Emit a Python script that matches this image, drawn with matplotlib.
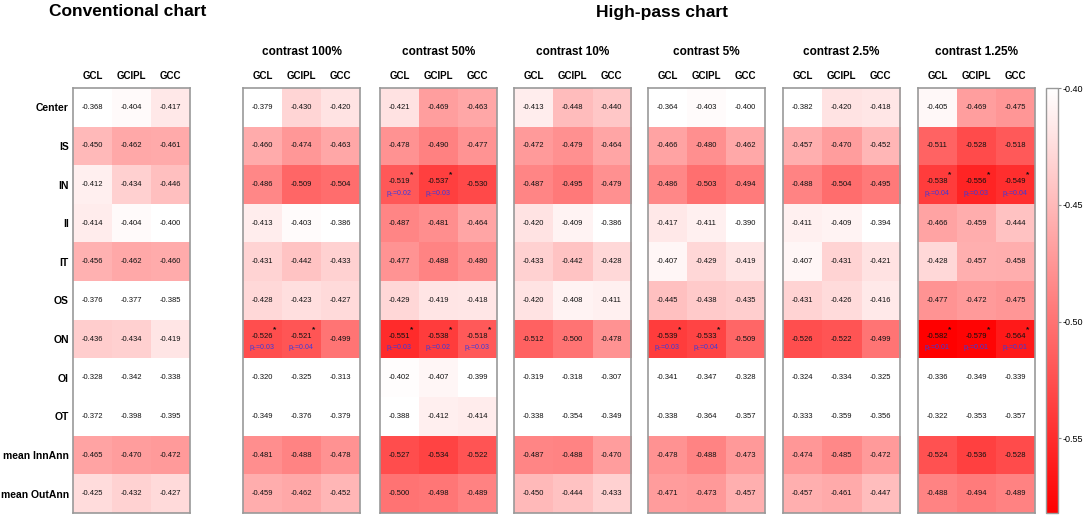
import numpy as np
import matplotlib
matplotlib.use('Agg')
import matplotlib.pyplot as plt
from matplotlib.colors import LinearSegmentedColormap

plt.rcParams['font.family'] = ['Liberation Sans', 'DejaVu Sans']

rows = ['Center', 'IS', 'IN', 'II', 'IT', 'OS', 'ON', 'OI', 'OT', 'mean InnAnn', 'mean OutAnn']
cols = ['GCL', 'GCIPL', 'GCC']

conventional = [
    [-0.368, -0.404, -0.417], [-0.450, -0.462, -0.461], [-0.412, -0.434, -0.446],
    [-0.414, -0.404, -0.400], [-0.456, -0.462, -0.460], [-0.376, -0.377, -0.385],
    [-0.436, -0.434, -0.419], [-0.328, -0.342, -0.338], [-0.372, -0.398, -0.395],
    [-0.465, -0.470, -0.472], [-0.425, -0.432, -0.427],
]
contrast_100 = [
    [-0.379, -0.430, -0.420], [-0.460, -0.474, -0.463], [-0.486, -0.509, -0.504],
    [-0.413, -0.403, -0.386], [-0.431, -0.442, -0.433], [-0.428, -0.423, -0.427],
    [-0.526, -0.521, -0.499], [-0.320, -0.325, -0.313], [-0.349, -0.376, -0.379],
    [-0.481, -0.488, -0.478], [-0.459, -0.462, -0.452],
]
contrast_50 = [
    [-0.421, -0.469, -0.463], [-0.478, -0.490, -0.477], [-0.519, -0.537, -0.530],
    [-0.487, -0.481, -0.464], [-0.477, -0.488, -0.480], [-0.429, -0.419, -0.418],
    [-0.551, -0.538, -0.518], [-0.402, -0.407, -0.399], [-0.388, -0.412, -0.414],
    [-0.527, -0.534, -0.522], [-0.500, -0.498, -0.489],
]
contrast_10 = [
    [-0.413, -0.448, -0.440], [-0.472, -0.479, -0.464], [-0.487, -0.495, -0.479],
    [-0.420, -0.409, -0.386], [-0.433, -0.442, -0.428], [-0.420, -0.408, -0.411],
    [-0.512, -0.500, -0.478], [-0.319, -0.318, -0.307], [-0.338, -0.354, -0.349],
    [-0.487, -0.488, -0.470], [-0.450, -0.444, -0.433],
]
contrast_5 = [
    [-0.364, -0.403, -0.400], [-0.466, -0.480, -0.462], [-0.486, -0.503, -0.494],
    [-0.417, -0.411, -0.390], [-0.407, -0.429, -0.419], [-0.445, -0.438, -0.435],
    [-0.539, -0.533, -0.509], [-0.341, -0.347, -0.328], [-0.338, -0.364, -0.357],
    [-0.478, -0.488, -0.473], [-0.471, -0.473, -0.457],
]
contrast_2_5 = [
    [-0.382, -0.420, -0.418], [-0.457, -0.470, -0.452], [-0.488, -0.504, -0.495],
    [-0.411, -0.409, -0.394], [-0.407, -0.431, -0.421], [-0.431, -0.426, -0.416],
    [-0.526, -0.522, -0.499], [-0.324, -0.334, -0.325], [-0.333, -0.359, -0.356],
    [-0.474, -0.485, -0.472], [-0.457, -0.461, -0.447],
]
contrast_1_25 = [
    [-0.405, -0.469, -0.475], [-0.511, -0.528, -0.518], [-0.538, -0.556, -0.549],
    [-0.466, -0.459, -0.444], [-0.428, -0.457, -0.458], [-0.477, -0.472, -0.475],
    [-0.582, -0.579, -0.564], [-0.336, -0.349, -0.339], [-0.322, -0.353, -0.357],
    [-0.524, -0.536, -0.528], [-0.488, -0.494, -0.489],
]

# significant cells: (row, col, p value)
sig_100 = [(6, 0, '0.03'), (6, 1, '0.04')]
sig_50 = [(2, 0, '0.02'), (2, 1, '0.03'), (6, 0, '0.03'), (6, 1, '0.02'), (6, 2, '0.03')]
sig_5 = [(6, 0, '0.03'), (6, 1, '0.04')]
sig_1_25 = [(2, 0, '0.04'), (2, 1, '0.03'), (2, 2, '0.04'),
            (6, 0, '0.01'), (6, 1, '0.01'), (6, 2, '0.01')]

panel_titles = ['contrast 100%', 'contrast 50%', 'contrast 10%', 'contrast 5%',
                'contrast 2.5%', 'contrast 1.25%']
panel_data = [contrast_100, contrast_50, contrast_10, contrast_5, contrast_2_5, contrast_1_25]
panel_sig = [sig_100, sig_50, [], sig_5, [], sig_1_25]

W, H = 1084, 517
cmap = LinearSegmentedColormap.from_list('white_red', ['#ff0000', '#ffffff'])
vmin, vmax = -0.582, -0.40

fig = plt.figure(figsize=(W / 100, H / 100), dpi=100)


def px_axes(x0, y0, w, h):
    return fig.add_axes([x0 / W, 1 - (y0 + h) / H, w / W, h / H])


def draw_panel(ax, data, sig, show_rows):
    arr = np.array(data)
    im = ax.imshow(arr, cmap=cmap, vmin=vmin, vmax=vmax, aspect='auto')
    sig_cells = {(r, c): p for r, c, p in sig}
    for r in range(arr.shape[0]):
        for c in range(arr.shape[1]):
            txt = '%.3f' % arr[r, c]
            if (r, c) in sig_cells:
                ax.text(c, r - 0.08, txt, ha='center', va='center', fontsize=5.5, color='#111111')
                ax.text(c + 0.27, r - 0.25, '*', ha='left', va='center', fontsize=6,
                        color='#111111', fontweight='bold')
                ax.text(c, r + 0.22, r'p$_c$=' + sig_cells[(r, c)], ha='center', va='center',
                        fontsize=5, color='#3a3adf')
            else:
                ax.text(c, r, txt, ha='center', va='center', fontsize=5.5, color='#111111')
    ax.xaxis.tick_top()
    ax.set_xticks(range(3))
    ax.set_xticklabels(cols, fontsize=7, fontweight='bold')
    ax.tick_params(axis='x', length=0, pad=5)
    if show_rows:
        ax.set_yticks(range(len(rows)))
        ax.set_yticklabels(rows, fontsize=7.5, fontweight='bold')
        ax.tick_params(axis='y', length=0, pad=3)
    else:
        ax.set_yticks([])
    for s in ax.spines.values():
        s.set_color('#999999')
        s.set_linewidth(1.2)
    return im


top, height, width = 88, 425, 117

ax0 = px_axes(73, top, width, height)
draw_panel(ax0, conventional, [], True)

lefts = [243, 380, 514, 648, 783, 918]
for left, title, data, sig in zip(lefts, panel_titles, panel_data, panel_sig):
    ax = px_axes(left, top, width, height)
    im = draw_panel(ax, data, sig, False)
    fig.text((left + width / 2) / W, 1 - 52 / H, title, ha='center', va='center',
             fontsize=8.5, fontweight='bold')

fig.text(49 / W, 1 - 12 / H, 'Conventional chart', ha='left', va='center',
         fontsize=12.5, fontweight='bold')
fig.text(662 / W, 1 - 12 / H, 'High-pass chart', ha='center', va='center',
         fontsize=12.5, fontweight='bold')

cax = px_axes(1046, top, 12, height)
cb = fig.colorbar(im, cax=cax, ticks=[-0.40, -0.45, -0.50, -0.55])
cb.ax.set_yticklabels(['-0.40', '-0.45', '-0.50', '-0.55'])
cb.ax.tick_params(labelsize=6.5, length=2, color='#888888', pad=1.5)
cb.outline.set_edgecolor('#999999')
cb.outline.set_linewidth(1.0)

fig.savefig('out.png', dpi=100)
